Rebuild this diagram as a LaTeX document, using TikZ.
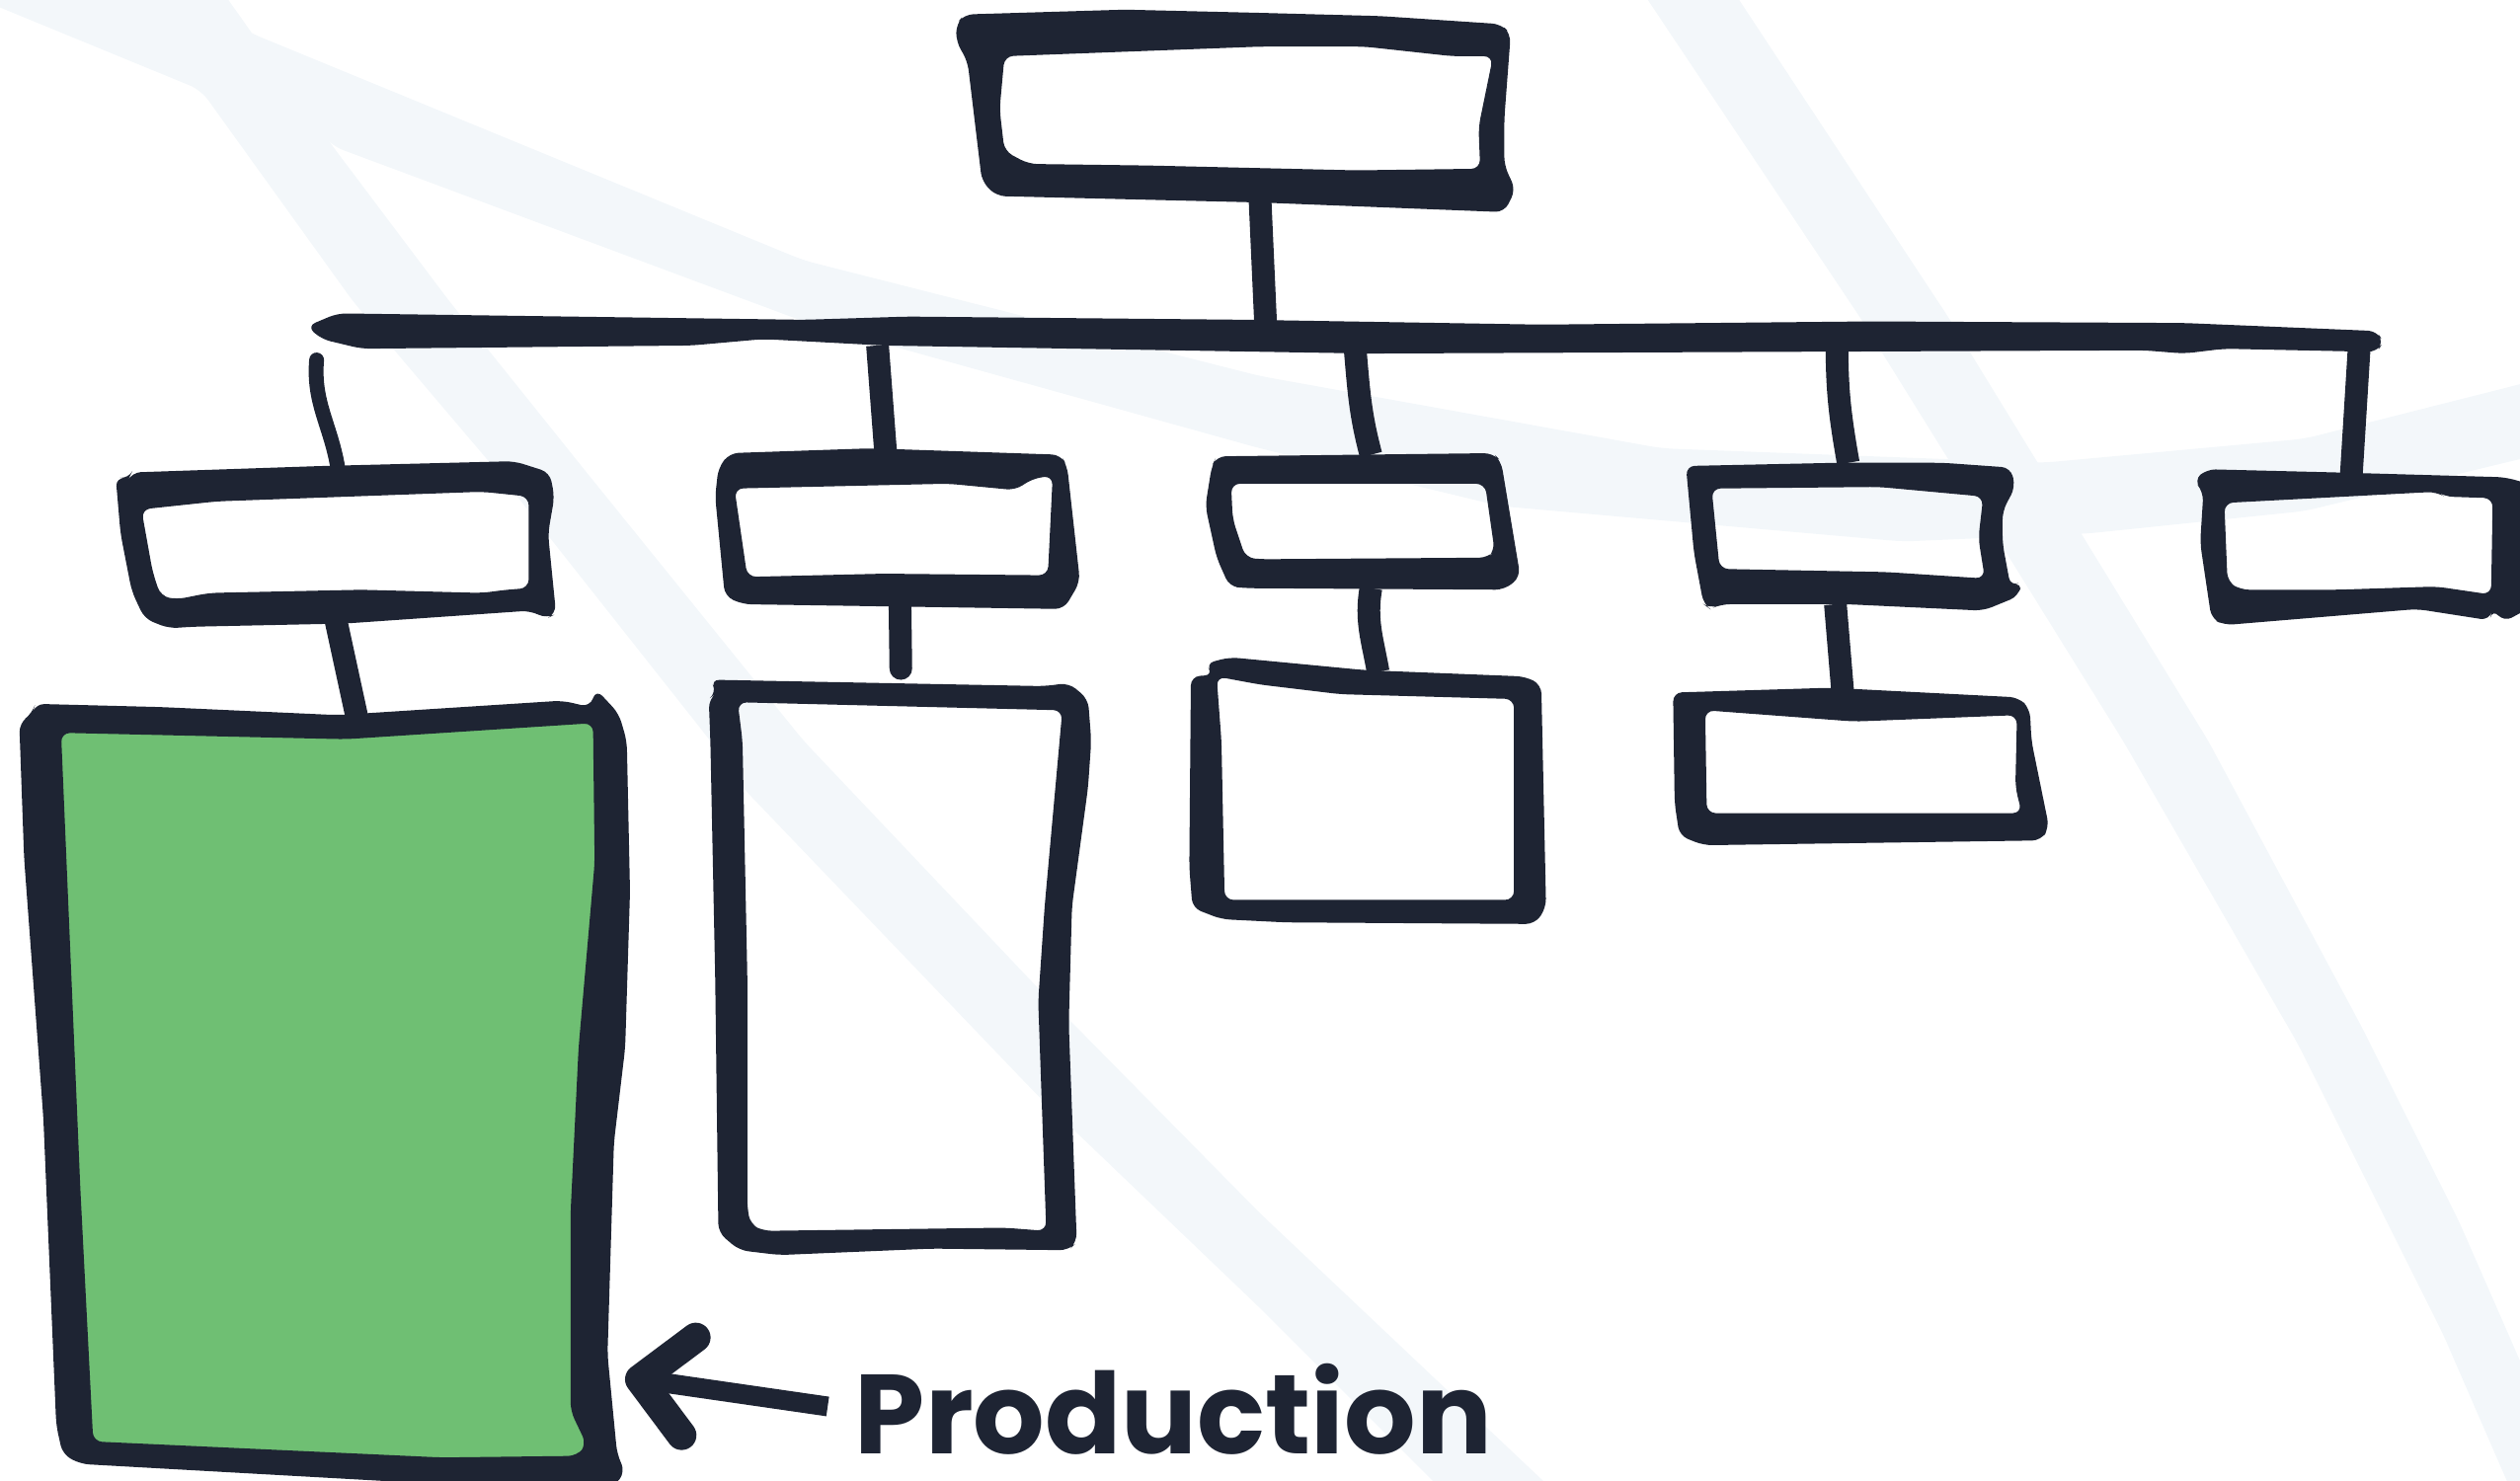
\documentclass[tikz,border=0pt]{standalone}
\usepackage{fontspec}
\setmainfont{Poppins}
\usetikzlibrary{arrows.meta,fit}
\definecolor{inkdark}{HTML}{1E2433}
\definecolor{leafgreen}{HTML}{6FBF73}
\definecolor{paleband}{HTML}{F3F7FA}
\tikzset{
  slot/.style={inner sep=0pt,outer sep=0pt},
  sketch/.style={fill=inkdark,even odd rule,rounded corners=9pt},
  band/.style={fill=paleband,rounded corners=12pt},
  link/.style={draw=inkdark,line width=23pt},
}
\begin{document}
\begin{tikzpicture}[x=1.6276pt,y=-1.6276pt]
    \useasboundingbox (0,0) rectangle (1568,921.6);
    % pale strokes behind the chart
    \fill [band] (-60,-20) -- (128,-20) -- (157,21) -- (207,91) -- (280,188) -- (365,294) -- (500,461) -- (645,614) -- (784,755) -- (985,945)
      -- (915,945) -- (784,814) -- (645,681) -- (462,490) -- (442,461) -- (310,294) -- (220,188) -- (125,56) -- (-60,-20) -- cycle;
    \fill [band] (125,3) -- (157,21) -- (500,162) -- (784,234) -- (1034,279) -- (1271,288) -- (1434,273) -- (1600,231)
      -- (1600,278) -- (1434,318) -- (1299,332) -- (1184,337) -- (934,315) -- (784,279) -- (500,200) -- (207,91) -- cycle;
    \fill [band] (1012,-20) -- (1069,-20) -- (1214,200) -- (1374,461) -- (1470,640) -- (1530,760) -- (1600,920)
      -- (1570,945) -- (1520,830) -- (1430,650) -- (1321,461) -- (1159,200) -- cycle;
    % named places of the boxes
    \node (root) [slot,fit={(600,10) (940,128)}] {};
    \node (trunk) [slot,fit={(192,199) (1483,217)}] {};
    \node (lead1) [slot,fit={(75,290) (345,388)}] {};
    \node (lead2) [slot,fit={(445,281) (672,379)}] {};
    \node (lead3) [slot,fit={(750,283) (946,367)}] {};
    \node (lead4) [slot,fit={(1052,288) (1256,378)}] {};
    \node (lead5) [slot,fit={(1370,294) (1568,388)}] {};
    \node (prod) [slot,fit={(13,440) (392,920)}] {};
    \node (team2) [slot,fit={(442,425) (679,780)}] {};
    \node (team3) [slot,fit={(741,415) (962,575)}] {};
    \node (team4) [slot,fit={(1042,430) (1275,525)}] {};
    \node (label) [slot,anchor=base west,text=inkdark,font=\fontsize{114}{114}\selectfont\bfseries] at (532,905) {Production};
    \coordinate (stub) at (197,224);
    \coordinate (prodtip) at (389,857);
    % green box
    \fill [leafgreen] (30,452) -- (215,458) -- (375,445) -- (375,700) -- (365,910) -- (50,905) -- cycle;
    % connectors
    \draw [link] ([shift={(14,-4)}]root.south) -- ([shift={(-50,3)}]trunk.north);
    \draw [link,line width=15pt,line cap=round] (stub) to [out=-95,in=100] (lead1.north);
    \draw [link] ([shift={(-291.5,-2)}]trunk.south) -- ([shift={(-7.5,0)}]lead2.north);
    \draw [link] ([shift={(5.5,-2)}]trunk.south) to [out=-85,in=105] ([shift={(5,0)}]lead3.north);
    \draw [link] ([shift={(305.5,-2)}]trunk.south) to [out=-90,in=100] ([shift={(-4,0)}]lead4.north);
    \draw [link] ([shift={(630.5,-2)}]trunk.south) -- ([shift={(-6,2)}]lead5.north);
    \draw [link] ([shift={(-1,-2)}]lead1.south) -- ([shift={(19.5,6)}]prod.north);
    \draw [link,line cap=round] ([shift={(1.5,-2)}]lead2.south) -- ([shift={(0,-9)}]team2.north);
    \draw [link] ([shift={(5,-1)}]lead3.south) to [out=-100,in=100] ([shift={(6,3)}]team3.north);
    \draw [link] ([shift={(-12,-2)}]lead4.south) -- ([shift={(-12,0)}]team4.north);
    \draw [link,line width=20pt,-{Straight Barb[round,length=50pt,width=100pt,line width=30pt]}] ([shift={(-17,-2)}]label.west) -- (prodtip);
    % hand drawn outlines
    \fill [sketch] (595,15) -- (600,9) -- (700,6) -- (784,8) -- (859,10) -- (934,15) -- (940,21) -- (936,74) -- (936,103) -- (943,118) -- (936,132) -- (784,126) -- (620,122) -- (611,113) -- (602,38) -- (595,26) -- cycle
      (625,35) -- (784,29) -- (849,29) -- (904,35) -- (929,35) -- (920,79) -- (921,105) -- (844,106) -- (715,103) -- (640,102) -- (625,94) -- (622,68) -- cycle;
    \fill [sketch] (191,203) -- (210,195) -- (500,199) -- (565,197) -- (776,199) -- (959,202) -- (1164,200) -- (1359,201) -- (1479,206) -- (1483,213) -- (1479,219) -- (1384,217) -- (1359,220) -- (1334,218) -- (851,220) -- (550,215) -- (475,211) -- (430,215) -- (225,217) -- (200,211) -- cycle;
    \fill [sketch] (72,297) -- (80,298) -- (82,294) -- (200,290) -- (320,287) -- (342,294) -- (345,309) -- (341,332) -- (346,382) -- (340,385) -- (330,380) -- (215,388) -- (120,390) -- (105,391) -- (90,385) -- (82,368) -- (75,332) -- cycle
      (88,317) -- (135,312) -- (300,306) -- (329,309) -- (329,366) -- (315,367) -- (300,369) -- (225,367) -- (130,369) -- (110,373) -- (100,371) -- (95,356) -- cycle;
    \fill [sketch] (454,282) -- (542,279) -- (660,283) -- (664,290) -- (672,362) -- (662,379) -- (462,376) -- (451,371) -- (445,309) -- (447,291) -- cycle
      (457,304) -- (590,301) -- (632,305) -- (642,298) -- (655,296) -- (652,358) -- (550,357) -- (465,359) -- cycle;
    \fill [sketch] (757,284) -- (929,282) -- (934,287) -- (946,359) -- (936,367) -- (775,366) -- (765,365) -- (757,347) -- (750,315) -- (754,290) -- cycle
      (766,301) -- (924,301) -- (930,343) -- (926,347) -- (784,348) -- (775,347) -- (767,323) -- cycle;
    \fill [sketch] (1049,290) -- (1143,288) -- (1209,288) -- (1251,291) -- (1254,303) -- (1246,318) -- (1246,338) -- (1251,365) -- (1258,362) -- (1256,371) -- (1234,380) -- (1149,376) -- (1071,376) -- (1064,379) -- (1060,376) -- (1054,344) -- cycle
      (1065,304) -- (1169,303) -- (1234,309) -- (1231,335) -- (1235,360) -- (1174,356) -- (1070,354) -- cycle;
    \fill [sketch] (1365,299) -- (1373,292) -- (1454,294) -- (1559,297) -- (1580,303) -- (1580,375) -- (1558,387) -- (1551,379) -- (1549,386) -- (1504,379) -- (1384,389) -- (1376,385) -- (1369,338) -- (1371,306) -- cycle
      (1384,313) -- (1516,306) -- (1521,309) -- (1551,310) -- (1550,370) -- (1516,365) -- (1454,367) -- (1394,367) -- (1386,362) -- cycle;
    \fill [sketch] (12,450) -- (20,444) -- (22,438) -- (100,440) -- (210,445) -- (350,436) -- (367,440) -- (371,429) -- (385,444) -- (390,461) -- (392,555) -- (389,652) -- (382,711) -- (378,843) -- (384,905) -- (389,916) -- (382,925) -- (300,925) -- (50,911) -- (39,905) -- (35,887) -- (27,696) -- (15,534) -- cycle
      (38,456) -- (215,460) -- (369,450) -- (370,537) -- (360,652) -- (355,755) -- (355,878) -- (365,899) -- (359,906) -- (275,907) -- (58,897) -- (50,740) -- cycle;
    \fill [sketch] (442,423) -- (650,427) -- (665,425) -- (677,435) -- (679,461) -- (677,490) -- (667,564) -- (665,637) -- (670,773) -- (665,778) -- (580,777) -- (485,781) -- (460,778) -- (447,767) -- (445,608) -- (442,461) -- (441,435) -- (446,431) -- cycle
      (459,437) -- (661,442) -- (650,564) -- (646,623) -- (651,766) -- (625,764) -- (475,766) -- (467,762) -- (465,752) -- (465,608) -- (462,461) -- cycle;
    \fill [sketch] (750,413) -- (765,409) -- (849,417) -- (949,421) -- (959,426) -- (962,565) -- (955,575) -- (800,574) -- (760,572) -- (742,565) -- (740,540) -- (741,421) -- (755,420) -- cycle
      (757,421) -- (784,426) -- (834,432) -- (942,435) -- (942,560) -- (762,560) -- (760,461) -- cycle;
    \fill [sketch] (1041,431) -- (1139,428) -- (1256,434) -- (1263,441) -- (1264,461) -- (1275,515) -- (1270,523) -- (1060,526) -- (1045,520) -- (1042,500) -- cycle
      (1061,442) -- (1154,449) -- (1255,445) -- (1254,490) -- (1258,506) -- (1062,506) -- cycle;
\end{tikzpicture}
\end{document}
